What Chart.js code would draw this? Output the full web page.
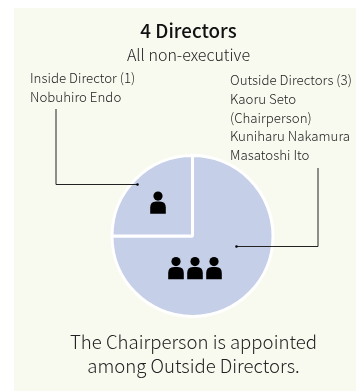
<!DOCTYPE html>
<html>
<head>
<meta charset="utf-8">
<script src="https://cdn.jsdelivr.net/npm/chart.js@4/dist/chart.umd.min.js"></script>
<style>
  html, body { margin: 0; padding: 0; background: #fff; }
  #wrap { position: relative; width: 356px; height: 392px; overflow: hidden; font-family: "Noto Sans CJK JP", "Noto Sans", sans-serif; color: #222; }
  #panel { position: absolute; left: 14px; top: 8px; width: 342px; height: 383px; background: #f8faef; }
  canvas { position: absolute; left: 0; top: 0; }
  .t { position: absolute; white-space: nowrap; }
  .note { font-size: 13.3px; line-height: 18.8px; font-weight: 300; }
</style>
</head>
<body>
<div id="wrap">
  <div id="panel"></div>
  <canvas id="chart" width="356" height="392"></canvas>
  <div class="t" style="left:0;width:377px;top:17px;text-align:center;font-size:18.8px;line-height:26px;font-weight:500;color:#111">4 Directors</div>
  <div class="t" style="left:0;width:377px;top:41.5px;text-align:center;font-size:16px;line-height:24px;font-weight:300">All non-executive</div>
  <div class="t note" style="left:30px;top:69px" id="insideNote"></div>
  <div class="t note" style="left:230px;top:71px" id="outsideNote"></div>
  <div class="t" style="left:0;width:387px;top:329px;text-align:center;font-size:18.6px;line-height:24px;font-weight:300">The Chairperson is appointed<br>among Outside Directors.</div>
</div>
<script>
const categories = ['Outside Directors', 'Inside Director'];
const directorCounts = [3, 1];
const insideNames = ['Nobuhiro Endo'];
const outsideNames = ['Kaoru Seto', '(Chairperson)', 'Kuniharu Nakamura', 'Masatoshi Ito'];

document.getElementById('insideNote').innerHTML =
  [`${categories[1]} (${directorCounts[1]})`, ...insideNames].join('<br>');
document.getElementById('outsideNote').innerHTML =
  [`${categories[0]} (${directorCounts[0]})`, ...outsideNames].join('<br>');

function drawPerson(ctx, x, top) {
  ctx.beginPath();
  ctx.arc(x, top + 4.6, 4.6, 0, Math.PI * 2);
  ctx.fill();
  ctx.beginPath();
  ctx.moveTo(x - 7.8, top + 22.2);
  ctx.lineTo(x - 7.8, top + 16);
  ctx.quadraticCurveTo(x - 7.8, top + 10, x - 2, top + 10);
  ctx.lineTo(x + 2, top + 10);
  ctx.quadraticCurveTo(x + 7.8, top + 10, x + 7.8, top + 16);
  ctx.lineTo(x + 7.8, top + 22.2);
  ctx.closePath();
  ctx.fill();
}

// leader lines and people icons on top of the pie
const overlay = {
  id: 'overlay',
  afterDatasetsDraw(chart) {
    const { ctx } = chart;
    const { x: cx, y: cy } = chart.getDatasetMeta(0).data[0];

    ctx.save();
    ctx.fillStyle = '#000';
    for (let i = 0; i < directorCounts[1]; i++) drawPerson(ctx, cx - 34.5, cy - 44.5);
    for (let i = 0; i < directorCounts[0]; i++) drawPerson(ctx, cx - 16.5 + i * 19, cy + 21);

    ctx.strokeStyle = '#222';
    ctx.lineWidth = 1;
    ctx.beginPath();
    ctx.moveTo(56, 109);
    ctx.lineTo(56, 184.5);
    ctx.lineTo(cx - 55, 184.5);
    ctx.moveTo(318, 168);
    ctx.lineTo(318, 246.5);
    ctx.lineTo(cx + 44, 246.5);
    ctx.stroke();

    ctx.beginPath();
    ctx.arc(cx - 55, 184.5, 1.3, 0, Math.PI * 2);
    ctx.arc(cx + 44, 246.5, 1.3, 0, Math.PI * 2);
    ctx.fill();
    ctx.restore();
  }
};

new Chart(document.getElementById('chart'), {
  type: 'pie',
  data: {
    labels: categories,
    datasets: [{
      data: directorCounts,
      backgroundColor: '#c6cfe8',
      borderColor: '#fff',
      borderWidth: 3,
      hoverOffset: 0
    }]
  },
  options: {
    responsive: false,
    animation: false,
    layout: { padding: { left: 110.5, right: 81.5, top: 154, bottom: 74 } },
    plugins: {
      legend: { display: false },
      title: { display: false },
      tooltip: { enabled: false }
    }
  },
  plugins: [overlay]
});
</script>
</body>
</html>
